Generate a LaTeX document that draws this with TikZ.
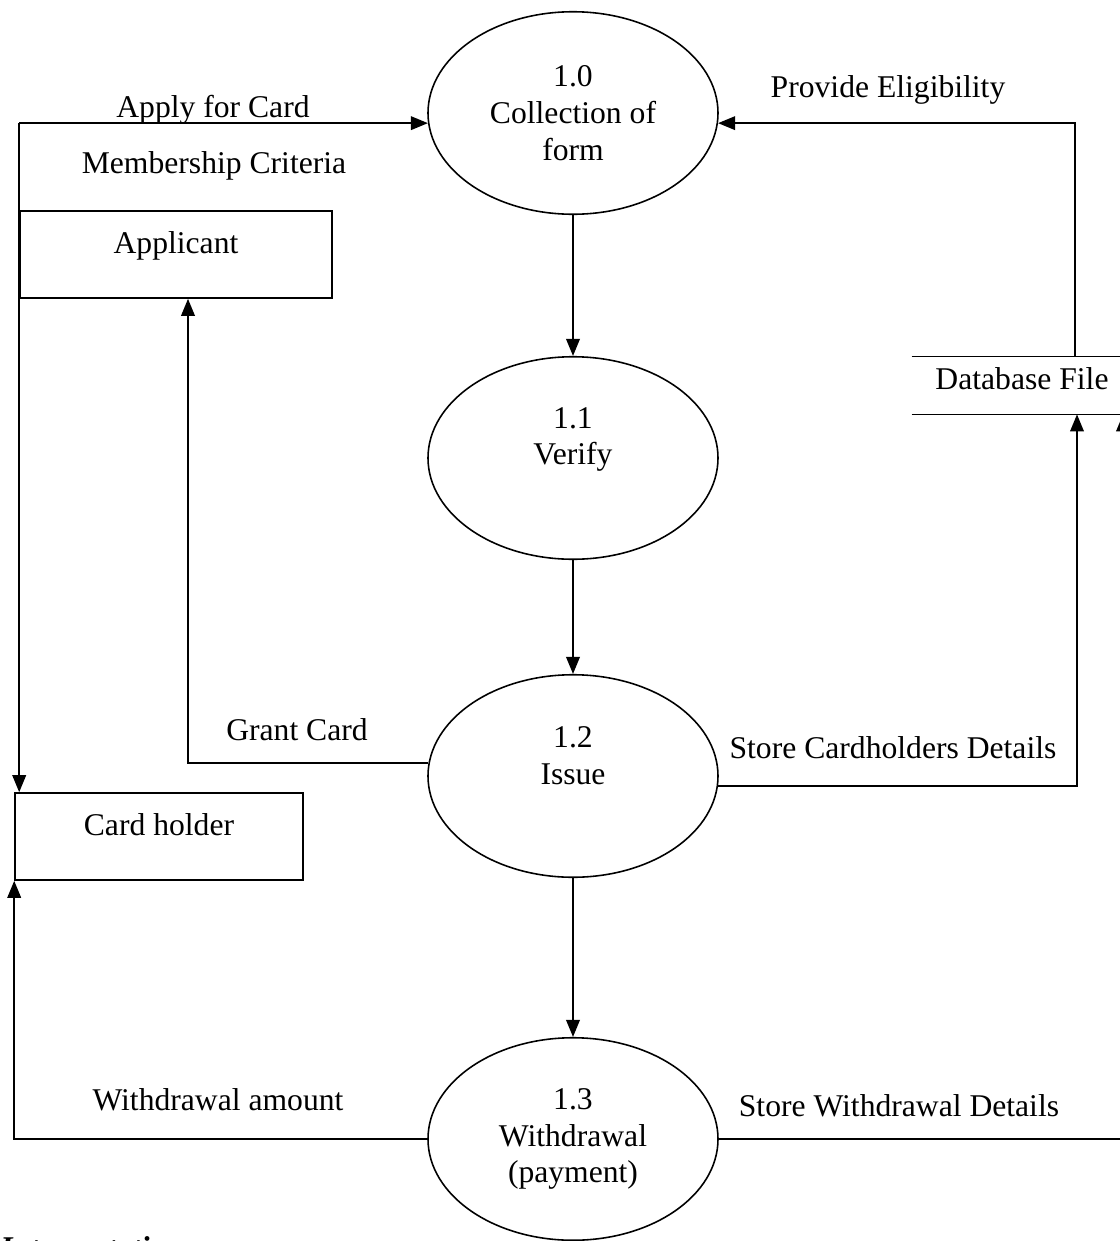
\documentclass[tikz,border=0pt]{standalone}
\usepackage{fontspec}
\setmainfont{Liberation Serif}
\usetikzlibrary{shapes.geometric,arrows.meta}

\newcommand{\dfdfont}{\fontsize{18}{21}\selectfont}

\tikzset{
    process/.style={draw, ellipse, line width=0.9pt, minimum width=5.8cm, minimum height=4.05cm, align=center, font=\dfdfont},
    entity/.style={draw, rectangle, line width=0.9pt, minimum height=1.74cm, text height=12.5pt, text depth=14pt, font=\dfdfont},
    store/.style={minimum width=4.4cm, minimum height=1.14cm, inner sep=2pt, text height=12.5pt, text depth=8.5pt, font=\dfdfont},
    flow/.style={line width=1.1pt, -{Triangle[length=3.4mm,width=2.7mm]}},
    lbl/.style={font=\dfdfont, inner sep=0pt}
}

\begin{document}
\begin{tikzpicture}[x=0.2mm, y=-0.2mm]  % единица = 0.2мм, ось y вниз
    \useasboundingbox (0,0) rectangle (1120,1241);

    % Процессы
    \node[process] (p10) at (573,113)  {1.0\\Collection of\\form};
    \node[process] (p11) at (573,458)  {1.1\\Verify\\[4pt]\mbox{}};
    \node[process] (p12) at (573,776)  {1.2\\Issue\\[2pt]\mbox{}};
    \node[process] (p13) at (573,1139) {1.3\\Withdrawal\\(payment)};

    % Внешние сущности
    \node[entity, minimum width=6.24cm] (app)  at (176,254.5) {Applicant};
    \node[entity, minimum width=5.76cm] (hold) at (159,836.5) {Card holder};

    % Хранилище данных
    \node[store] (db) at (1022,385.5) {Database File};
    \draw[line width=0.9pt] (db.north west) -- (db.north east) (db.south west) -- (db.south east);

    % Потоки
    \coordinate (corner) at (app.north west |- p10.184);
    \draw[flow] (corner) -- (p10.184);
    \draw[flow] (corner) -- (corner |- hold.north);
    \draw[flow] (p10) -- (p11);
    \draw[flow] (p11) -- (p12);
    \draw[flow] (p12) -- (p13);
    \draw[flow] (p12.175) -| ([xshift=2.4mm]app.south);
    \draw[flow] (p12.-4) -| ([xshift=11mm]db.south);
    \draw[flow] (p13.west) -| (hold.south west);
    \draw[flow] (p13.east) -| ([xshift=20.2mm]db.south);
    \draw[flow] ([xshift=10.6mm]db.north) |- (p10.-4);

    % Подписи потоков
    \node[lbl] (applbl)   at (213,110)  {Apply for Card};
    \node[lbl] (memlbl)   at (214,166)  {Membership Criteria};
    \node[lbl] (provlbl)  at (888,90)   {Provide Eligibility};
    \node[lbl] (grantlbl) at (297,730)  {Grant Card};
    \node[lbl] (storelbl) at (893,748)  {Store Cardholders Details};
    \node[lbl] (wamtlbl)  at (218,1100) {Withdrawal amount};
    \node[lbl] (wdetlbl)  at (899,1106) {Store Withdrawal Details};

    \node[lbl, anchor=base west, font=\dfdfont\bfseries\itshape] (interp) at (0,1258) {Interpretation};
\end{tikzpicture}
\end{document}
